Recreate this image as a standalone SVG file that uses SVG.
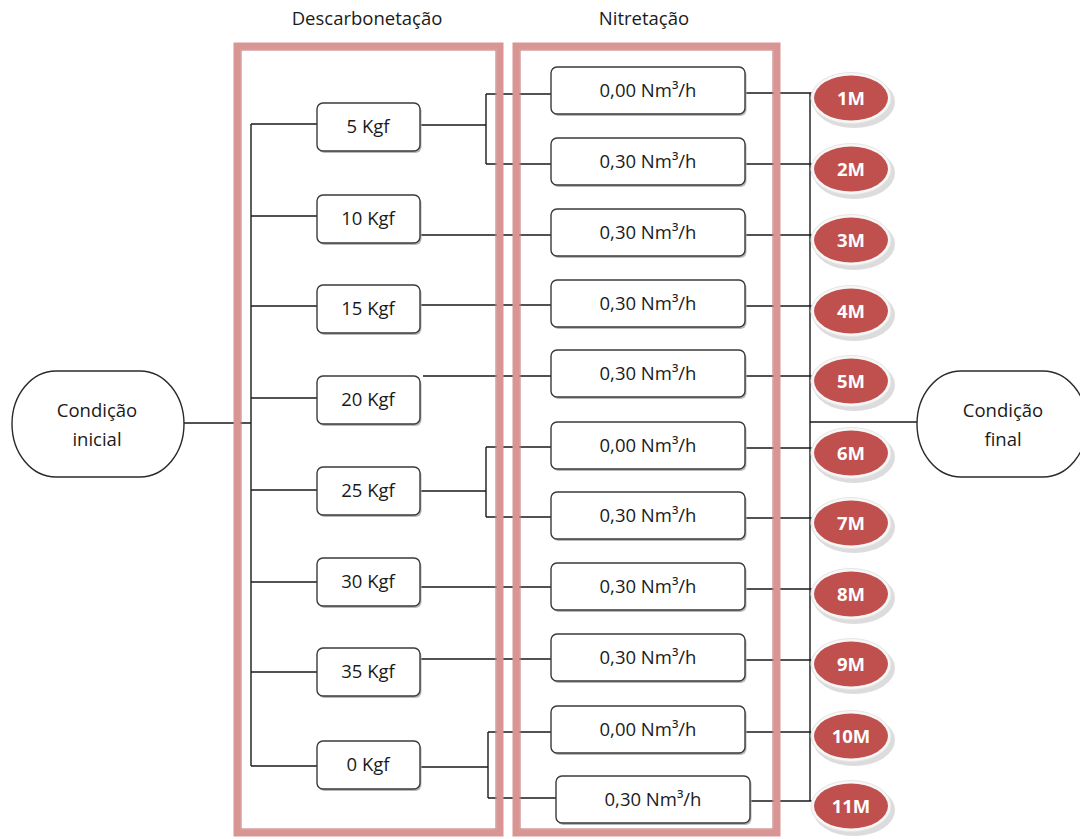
<svg xmlns="http://www.w3.org/2000/svg" width="1080" height="839" viewBox="0 0 1080 839">
<style>
.t{font-family:"Open Sans","Liberation Sans",sans-serif;font-size:18.5px;fill:#1a1a1a;text-anchor:middle}
.h{font-family:"Open Sans","Liberation Sans",sans-serif;font-size:18.5px;fill:#1a1a1a;text-anchor:middle}
.m{font-family:"Open Sans","Liberation Sans",sans-serif;font-size:18.5px;font-weight:bold;fill:#ffffff;text-anchor:middle}
.box{fill:#ffffff;stroke:#3a3a3a;stroke-width:1.4}
.sh{fill:#b8b8b8}
.ln{stroke:#1a1a1a;stroke-width:1.4;fill:none}
.fr{fill:none;stroke:#d99594;stroke-width:7}
.fr2{fill:none;stroke:#c98584;stroke-width:1.2}
.term{fill:#ffffff;stroke:#2a2a2a;stroke-width:1.4}
.es{fill:#dcdcdc}
.ew{fill:#f7f7f7;stroke:#e6e6e6;stroke-width:1}
.er{fill:#c0504d}
</style>
<defs>
<g id="ell">
<ellipse class="es" cx="3" cy="4" rx="41" ry="26"/>
<ellipse class="ew" cx="0" cy="0" rx="40" ry="25.5"/>
<ellipse class="er" cx="0" cy="0" rx="37" ry="22.5"/>
</g>
</defs>

<text class="h" x="367" y="25">Descarbonetação</text>
<text class="h" x="644" y="25">Nitretação</text>

<g id="connectors">
<path class="ln" d="M183,423 H251 M251,124 V766 M251,124 H317 M251,216 H317 M251,306 H317 M251,398 H317 M251,490 H317 M251,582 H317 M251,672 H317 M251,766 H317"/>
<path class="ln" d="M420,125 H486 M486,94 V164 M486,94 H551 M486,164 H551"/>
<path class="ln" d="M420,235 H551 M420,305 H551 M423,376 H551"/>
<path class="ln" d="M420,491 H486 M486,447 V517 M486,447 H551 M486,517 H551"/>
<path class="ln" d="M420,587 H551 M420,659 H551"/>
<path class="ln" d="M420,767 H488 M488,732 V798 M488,732 H551 M488,798 H556"/>
<path class="ln" d="M745,93 H812 M745,164 H812 M745,235 H812 M745,306 H812 M745,376 H812 M745,448 H812 M745,518 H812 M745,589 H812 M745,660 H812 M745,732 H812 M750,801 H812 M810,93 V801 M810,422 H917"/>
</g>

<g id="frames">
<rect class="fr" x="237" y="46" width="263" height="787"/>
<rect class="fr2" x="241" y="50" width="255" height="779"/>
<rect class="fr" x="516" y="46" width="261" height="787"/>
<rect class="fr2" x="520" y="50" width="253" height="779"/>
</g>

<g id="cond-inicial">
<rect class="term" x="12" y="371" width="172" height="106" rx="44" ry="53"/>
<text class="t" x="97" y="417">Condição</text>
<text class="t" x="97" y="446">inicial</text>
</g>
<g id="cond-final">
<rect class="term" x="917" y="371" width="170" height="106" rx="44" ry="53"/>
<text class="t" x="1003" y="417">Condição</text>
<text class="t" x="1003" y="446">final</text>
</g>

<g id="kgf5"><rect class="sh" x="318.5" y="105" width="103" height="48" rx="6"/><rect class="box" x="317" y="103" width="103" height="48" rx="6"/><text class="t" x="368" y="133">5 Kgf</text></g>
<g id="kgf10"><rect class="sh" x="318.5" y="197" width="103" height="48" rx="6"/><rect class="box" x="317" y="195" width="103" height="48" rx="6"/><text class="t" x="368" y="225">10 Kgf</text></g>
<g id="kgf15"><rect class="sh" x="318.5" y="287" width="103" height="48" rx="6"/><rect class="box" x="317" y="285" width="103" height="48" rx="6"/><text class="t" x="368" y="315">15 Kgf</text></g>
<g id="kgf20"><rect class="sh" x="318.5" y="378" width="103" height="48" rx="6"/><rect class="box" x="317" y="376" width="103" height="48" rx="6"/><text class="t" x="368" y="406">20 Kgf</text></g>
<g id="kgf25"><rect class="sh" x="318.5" y="469" width="103" height="48" rx="6"/><rect class="box" x="317" y="467" width="103" height="48" rx="6"/><text class="t" x="368" y="497">25 Kgf</text></g>
<g id="kgf30"><rect class="sh" x="318.5" y="560" width="103" height="48" rx="6"/><rect class="box" x="317" y="558" width="103" height="48" rx="6"/><text class="t" x="368" y="588">30 Kgf</text></g>
<g id="kgf35"><rect class="sh" x="318.5" y="650" width="103" height="48" rx="6"/><rect class="box" x="317" y="648" width="103" height="48" rx="6"/><text class="t" x="368" y="678">35 Kgf</text></g>
<g id="kgf0"><rect class="sh" x="318.5" y="743" width="103" height="48" rx="6"/><rect class="box" x="317" y="741" width="103" height="48" rx="6"/><text class="t" x="368" y="771">0 Kgf</text></g>

<g id="n1"><rect class="sh" x="552.5" y="69" width="194" height="47" rx="6"/><rect class="box" x="551" y="67" width="194" height="47" rx="6"/><text class="t" x="648" y="97">0,00 Nm³/h</text></g>
<g id="n2"><rect class="sh" x="552.5" y="140" width="194" height="47" rx="6"/><rect class="box" x="551" y="138" width="194" height="47" rx="6"/><text class="t" x="648" y="168">0,30 Nm³/h</text></g>
<g id="n3"><rect class="sh" x="552.5" y="211" width="194" height="47" rx="6"/><rect class="box" x="551" y="209" width="194" height="47" rx="6"/><text class="t" x="648" y="239">0,30 Nm³/h</text></g>
<g id="n4"><rect class="sh" x="552.5" y="282" width="194" height="47" rx="6"/><rect class="box" x="551" y="280" width="194" height="47" rx="6"/><text class="t" x="648" y="310">0,30 Nm³/h</text></g>
<g id="n5"><rect class="sh" x="552.5" y="352" width="194" height="47" rx="6"/><rect class="box" x="551" y="350" width="194" height="47" rx="6"/><text class="t" x="648" y="380">0,30 Nm³/h</text></g>
<g id="n6"><rect class="sh" x="552.5" y="424" width="194" height="47" rx="6"/><rect class="box" x="551" y="422" width="194" height="47" rx="6"/><text class="t" x="648" y="452">0,00 Nm³/h</text></g>
<g id="n7"><rect class="sh" x="552.5" y="494" width="194" height="47" rx="6"/><rect class="box" x="551" y="492" width="194" height="47" rx="6"/><text class="t" x="648" y="522">0,30 Nm³/h</text></g>
<g id="n8"><rect class="sh" x="552.5" y="565" width="194" height="47" rx="6"/><rect class="box" x="551" y="563" width="194" height="47" rx="6"/><text class="t" x="648" y="593">0,30 Nm³/h</text></g>
<g id="n9"><rect class="sh" x="552.5" y="636" width="194" height="47" rx="6"/><rect class="box" x="551" y="634" width="194" height="47" rx="6"/><text class="t" x="648" y="664">0,30 Nm³/h</text></g>
<g id="n10"><rect class="sh" x="552.5" y="708" width="194" height="47" rx="6"/><rect class="box" x="551" y="706" width="194" height="47" rx="6"/><text class="t" x="648" y="736">0,00 Nm³/h</text></g>
<g id="n11"><rect class="sh" x="557.5" y="778" width="194" height="47" rx="6"/><rect class="box" x="556" y="776" width="194" height="47" rx="6"/><text class="t" x="653" y="806">0,30 Nm³/h</text></g>

<g id="m1"><use href="#ell" x="851" y="98"/><text class="m" x="851" y="105">1M</text></g>
<g id="m2"><use href="#ell" x="851" y="169"/><text class="m" x="851" y="176">2M</text></g>
<g id="m3"><use href="#ell" x="851" y="240"/><text class="m" x="851" y="247">3M</text></g>
<g id="m4"><use href="#ell" x="851" y="311"/><text class="m" x="851" y="318">4M</text></g>
<g id="m5"><use href="#ell" x="851" y="381"/><text class="m" x="851" y="388">5M</text></g>
<g id="m6"><use href="#ell" x="851" y="453"/><text class="m" x="851" y="460">6M</text></g>
<g id="m7"><use href="#ell" x="851" y="523"/><text class="m" x="851" y="530">7M</text></g>
<g id="m8"><use href="#ell" x="851" y="594"/><text class="m" x="851" y="601">8M</text></g>
<g id="m9"><use href="#ell" x="851" y="664"/><text class="m" x="851" y="671">9M</text></g>
<g id="m10"><use href="#ell" x="851" y="736"/><text class="m" x="851" y="743">10M</text></g>
<g id="m11"><use href="#ell" x="851" y="806"/><text class="m" x="851" y="813">11M</text></g>
</svg>
